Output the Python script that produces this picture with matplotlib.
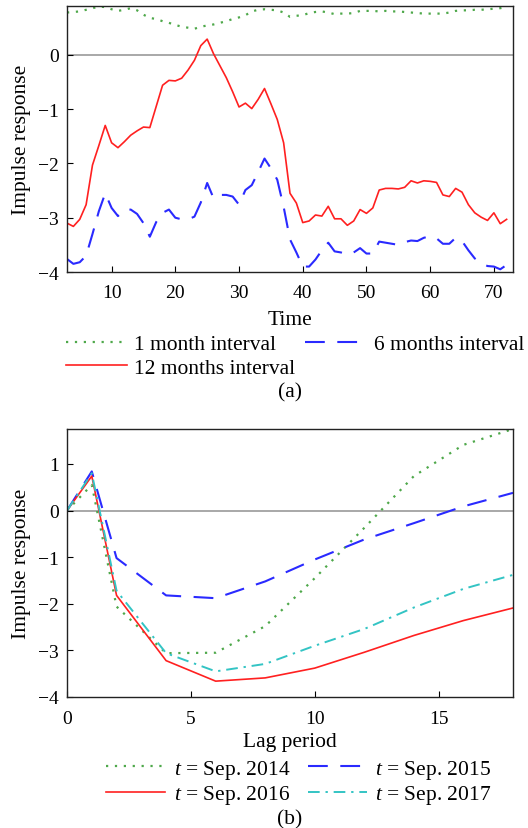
import numpy as np
import matplotlib
matplotlib.use("Agg")
import matplotlib.pyplot as plt

plt.rcParams['font.family'] = ['Liberation Serif', 'DejaVu Serif']
plt.rcParams['mathtext.fontset'] = 'custom'
plt.rcParams['mathtext.it'] = 'Liberation Serif:italic'
plt.rcParams['mathtext.rm'] = 'Liberation Serif'

# ---- panel (a): impulse response over time ----
time = np.arange(3, 73)

one_month = [0.78, 0.79, 0.80, 0.83, 0.86, 0.89, 0.88, 0.84, 0.81, 0.83,
             0.86, 0.82, 0.74, 0.68, 0.66, 0.62, 0.59, 0.55, 0.52, 0.50,
             0.48, 0.52, 0.54, 0.56, 0.59, 0.62, 0.66, 0.69, 0.73, 0.80,
             0.83, 0.84, 0.83, 0.82, 0.78, 0.70, 0.72, 0.73, 0.77, 0.79,
             0.80, 0.78, 0.75, 0.76, 0.76, 0.77, 0.81, 0.81, 0.81, 0.80,
             0.81, 0.80, 0.80, 0.79, 0.78, 0.77, 0.76, 0.76, 0.76, 0.76,
             0.78, 0.81, 0.82, 0.82, 0.83, 0.83, 0.84, 0.85, 0.86, 0.88]

six_months = [-3.76, -3.85, -3.82, -3.70, -3.30, -2.88, -2.55, -2.82, -2.97, -2.86,
              -2.85, -2.93, -3.10, -3.35, -3.08, -2.91, -2.85, -3.00, -3.03, -3.03,
              -2.98, -2.72, -2.36, -2.64, -2.58, -2.58, -2.61, -2.76, -2.49, -2.40,
              -2.16, -1.91, -2.09, -2.30, -2.80, -3.40, -3.64, -3.90, -3.90, -3.77,
              -3.60, -3.46, -3.62, -3.64, -3.68, -3.64, -3.56, -3.66, -3.66, -3.44,
              -3.46, -3.48, -3.50, -3.45, -3.42, -3.43, -3.37, -3.34, -3.38, -3.48,
              -3.48, -3.37, -3.43, -3.60, -3.75, -3.84, -3.89, -3.90, -3.95, -3.87]

twelve_months = [-3.10, -3.16, -3.03, -2.76, -2.03, -1.67, -1.30, -1.62, -1.71, -1.60,
                 -1.48, -1.40, -1.33, -1.34, -0.95, -0.56, -0.47, -0.48, -0.43, -0.28,
                 -0.10, 0.17, 0.29, 0.02, -0.20, -0.42, -0.68, -0.96, -0.89, -0.99,
                 -0.82, -0.62, -0.90, -1.19, -1.62, -2.55, -2.73, -3.09, -3.06, -2.95,
                 -2.97, -2.79, -3.02, -3.02, -3.14, -3.06, -2.85, -2.92, -2.82, -2.49,
                 -2.46, -2.46, -2.47, -2.44, -2.32, -2.36, -2.32, -2.33, -2.35, -2.58,
                 -2.61, -2.46, -2.53, -2.76, -2.91, -2.99, -3.05, -2.91, -3.11, -3.03]

# ---- panel (b): impulse response over lag ----
lag = [0, 1, 2, 4, 6, 8, 10, 12, 14, 16, 18]
sep2014 = [0.0, 0.55, -2.06, -3.06, -3.05, -2.48, -1.45, -0.37, 0.74, 1.41, 1.75]
sep2015 = [0.0, 0.84, -1.02, -1.82, -1.88, -1.52, -1.05, -0.62, -0.27, 0.09, 0.38]
sep2016 = [0.0, 0.74, -1.82, -3.22, -3.66, -3.59, -3.38, -3.04, -2.68, -2.36, -2.09]
sep2017 = [0.0, 0.80, -1.72, -3.06, -3.45, -3.29, -2.90, -2.54, -2.08, -1.68, -1.38]

W, H = 528, 829
fig = plt.figure(figsize=(W / 100, H / 100), dpi=100)

def px_axes(left, top, right, bottom):
    return fig.add_axes([left / W, 1 - bottom / H, (right - left) / W, (bottom - top) / H])

green = '#4ea84a'
blue = '#2a2aff'
red = '#ff2020'
cyan = '#33c4c4'
dotted = (0, (1, 3))
dashed = (0, (9.5, 6))
dashdot = (0, (6, 3, 1.2, 3))

FS = 15.5

def style(ax):
    ax.tick_params(direction='in', labelsize=14, length=4, width=0.8,
                   top=False, right=False, pad=6)
    ax.tick_params(axis='x', pad=9)
    for s in ax.spines.values():
        s.set_linewidth(1.0)
        s.set_color('#222222')
    ax.axhline(0, color='#a8a8a8', lw=1.4, zorder=0)

# panel (a)
ax1 = px_axes(67, 7, 513, 273)
style(ax1)
l1, = ax1.plot(time, one_month, color=green, lw=1.6, linestyle=dotted)
l2, = ax1.plot(time, six_months, color=blue, lw=1.5, linestyle=dashed)
l3, = ax1.plot(time, twelve_months, color=red, lw=1.2)
ax1.set_xlim(3, 73)
ax1.set_ylim(-4, 0.9)
ax1.set_xticks([10, 20, 30, 40, 50, 60, 70])
ax1.set_yticks([-4, -3, -2, -1, 0])
ax1.set_xlabel('Time', fontsize=FS, labelpad=6)
ax1.set_ylabel('Impulse response', fontsize=FS, labelpad=5)

fig.legend([l1, l3, l2], ['1 month interval', '12 months interval', '6 months interval'],
           ncol=2, loc='upper left', bbox_to_anchor=(66 / W, 1 - 335 / H),
           frameon=False, fontsize=FS, handlelength=2.85, handletextpad=0.33,
           columnspacing=0.45, borderpad=0, borderaxespad=0, labelspacing=0.17)
fig.text(290 / W, 1 - 393 / H, '(a)', ha='center', va='center', fontsize=FS)

# panel (b)
ax2 = px_axes(67, 430, 513, 698)
style(ax2)
b1, = ax2.plot(lag, sep2014, color=green, lw=1.6, linestyle=dotted)
b2, = ax2.plot(lag, sep2015, color=blue, lw=1.5, linestyle=dashed)
b3, = ax2.plot(lag, sep2016, color=red, lw=1.2)
b4, = ax2.plot(lag, sep2017, color=cyan, lw=1.4, linestyle=dashdot)
ax2.set_xlim(0, 18)
ax2.set_ylim(-4, 1.75)
ax2.set_xticks([0, 5, 10, 15])
ax2.set_yticks([-4, -3, -2, -1, 0, 1])
ax2.set_xlabel('Lag period', fontsize=FS, labelpad=4)
ax2.set_ylabel('Impulse response', fontsize=FS, labelpad=5)

fig.legend([b1, b3, b2, b4],
           ['$t$ = Sep. 2014', '$t$ = Sep. 2016', '$t$ = Sep. 2015', '$t$ = Sep. 2017'],
           ncol=2, loc='upper left', bbox_to_anchor=(106 / W, 1 - 759 / H),
           frameon=False, fontsize=FS, handlelength=2.75, handletextpad=0.4,
           columnspacing=0.8, borderpad=0, borderaxespad=0, labelspacing=0.1)
fig.text(290 / W, 1 - 820 / H, '(b)', ha='center', va='center', fontsize=FS)

fig.savefig('out.png', dpi=100)
